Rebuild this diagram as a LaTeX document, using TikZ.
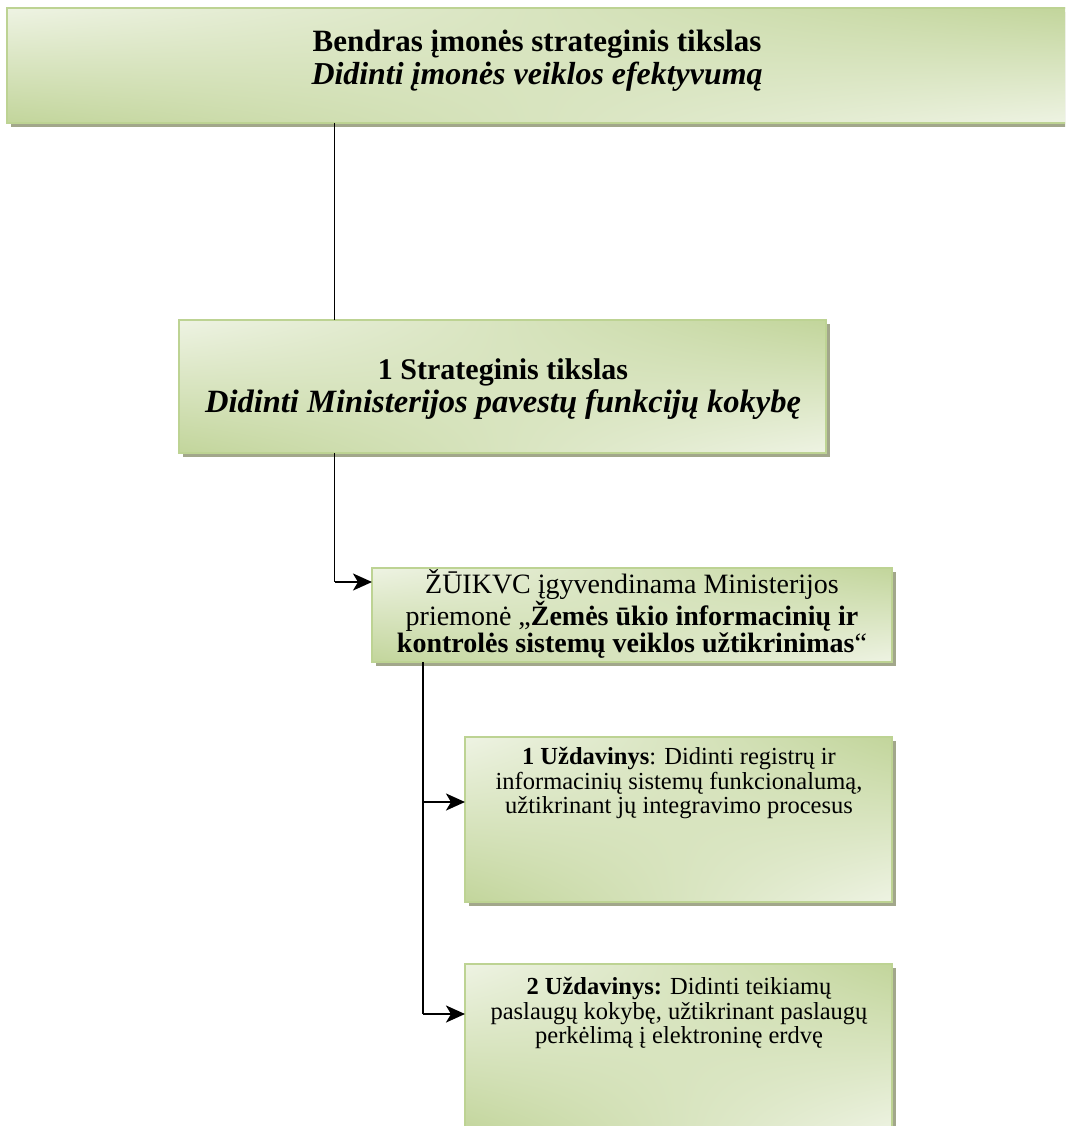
\documentclass[tikz,border=0pt]{standalone}
\usepackage{fontspec}
\setmainfont{Liberation Serif}
\usetikzlibrary{shadows,shadings,arrows.meta,calc}
\definecolor{lightg}{HTML}{EEF3E3}
\definecolor{darkg}{HTML}{C2D59B}
\definecolor{bordc}{HTML}{BDD393}
\definecolor{shadc}{HTML}{A2A78B}
\tikzset{
  box/.style={shade, upper left=lightg, lower right=lightg, upper right=darkg, lower left=darkg,
    draw=bordc, line width=1.5pt, inner sep=0pt, outer sep=0pt, anchor=north west,
    drop shadow={shadow xshift=4pt, shadow yshift=-4pt, fill=shadc, opacity=1}},
  txt/.style={align=center, inner sep=0pt, text=black},
  conn/.style={draw=black, line width=1.3pt},
  arr/.style={draw=black, line width=2.4pt, -{Stealth[length=19pt,width=17pt,inset=5pt]}}
}
\begin{document}
\begin{tikzpicture}[x=1pt,y=-1pt]
\useasboundingbox (0,0) rectangle (1065,1126);
\clip (0,0) rectangle (1065,1126);
\fill[white] (0,0) rectangle (1065,1126);
% boxes
\node[box, minimum width=1062pt, minimum height=115pt] (b1) at (7,8) {};
\node[box, minimum width=647pt, minimum height=133pt] (b2) at (179,320) {};
\node[box, minimum width=520pt, minimum height=94pt] (b3) at (372,568) {};
\node[box, minimum width=427pt, minimum height=165pt] (b4) at (465,737) {};
\node[box, minimum width=427pt, minimum height=170pt] (b5) at (465,964) {};
% texts
\node[txt, font=\fontsize{31}{33}\selectfont\bfseries] (t1) at (537,61)
  {Bendras įmonės strateginis tikslas\\ {\fontsize{31.9}{33}\selectfont\itshape Didinti įmonės veiklos efektyvumą}};
\node[txt, font=\fontsize{30}{33}\selectfont\bfseries] (t2) at (503,389)
  {1 Strateginis tikslas\\ {\fontsize{32.5}{33}\selectfont\itshape Didinti Ministerijos pavestų funkcijų kokybę}};
\node[txt, font=\fontsize{28}{27.5}\selectfont] (t3) at (632,614)
  {ŽŪIKVC įgyvendinama Ministerijos\\ priemonė „\textbf{Žemės ūkio informacinių ir}\\ \textbf{kontrolės sistemų veiklos užtikrinimas}“};
\node[txt, font=\fontsize{24.5}{24.5}\selectfont] (t4) at (679,783)
  {\textbf{1 Uždavinys}: Didinti registrų ir\\ informacinių sistemų funkcionalumą,\\ užtikrinant jų integravimo procesus};
\node[txt, font=\fontsize{24.5}{24.8}\selectfont] (t5) at (679,1013)
  {\textbf{2 Uždavinys:} Didinti teikiamų\\ paslaugų kokybę, užtikrinant paslaugų\\ perkėlimą į elektroninę erdvę};
% connectors
\coordinate (x1) at (334.5,0);
\coordinate (x2) at (423,0);
\coordinate (y3) at (0,582);
\coordinate (y4) at (0,802);
\coordinate (y5) at (0,1014);
\draw[conn] (x1 |- b1.south) -- (x1 |- b2.north);
\draw[conn] (x1 |- b2.south) -- (x1 |- y3);
\draw[arr] (x1 |- y3) -- (b3.west |- y3);
\draw[conn] (x2 |- b3.south) -- (x2 |- y5);
\draw[arr] (x2 |- y4) -- (b4.west |- y4);
\draw[arr] (x2 |- y5) -- (b5.west |- y5);
\end{tikzpicture}
\end{document}
